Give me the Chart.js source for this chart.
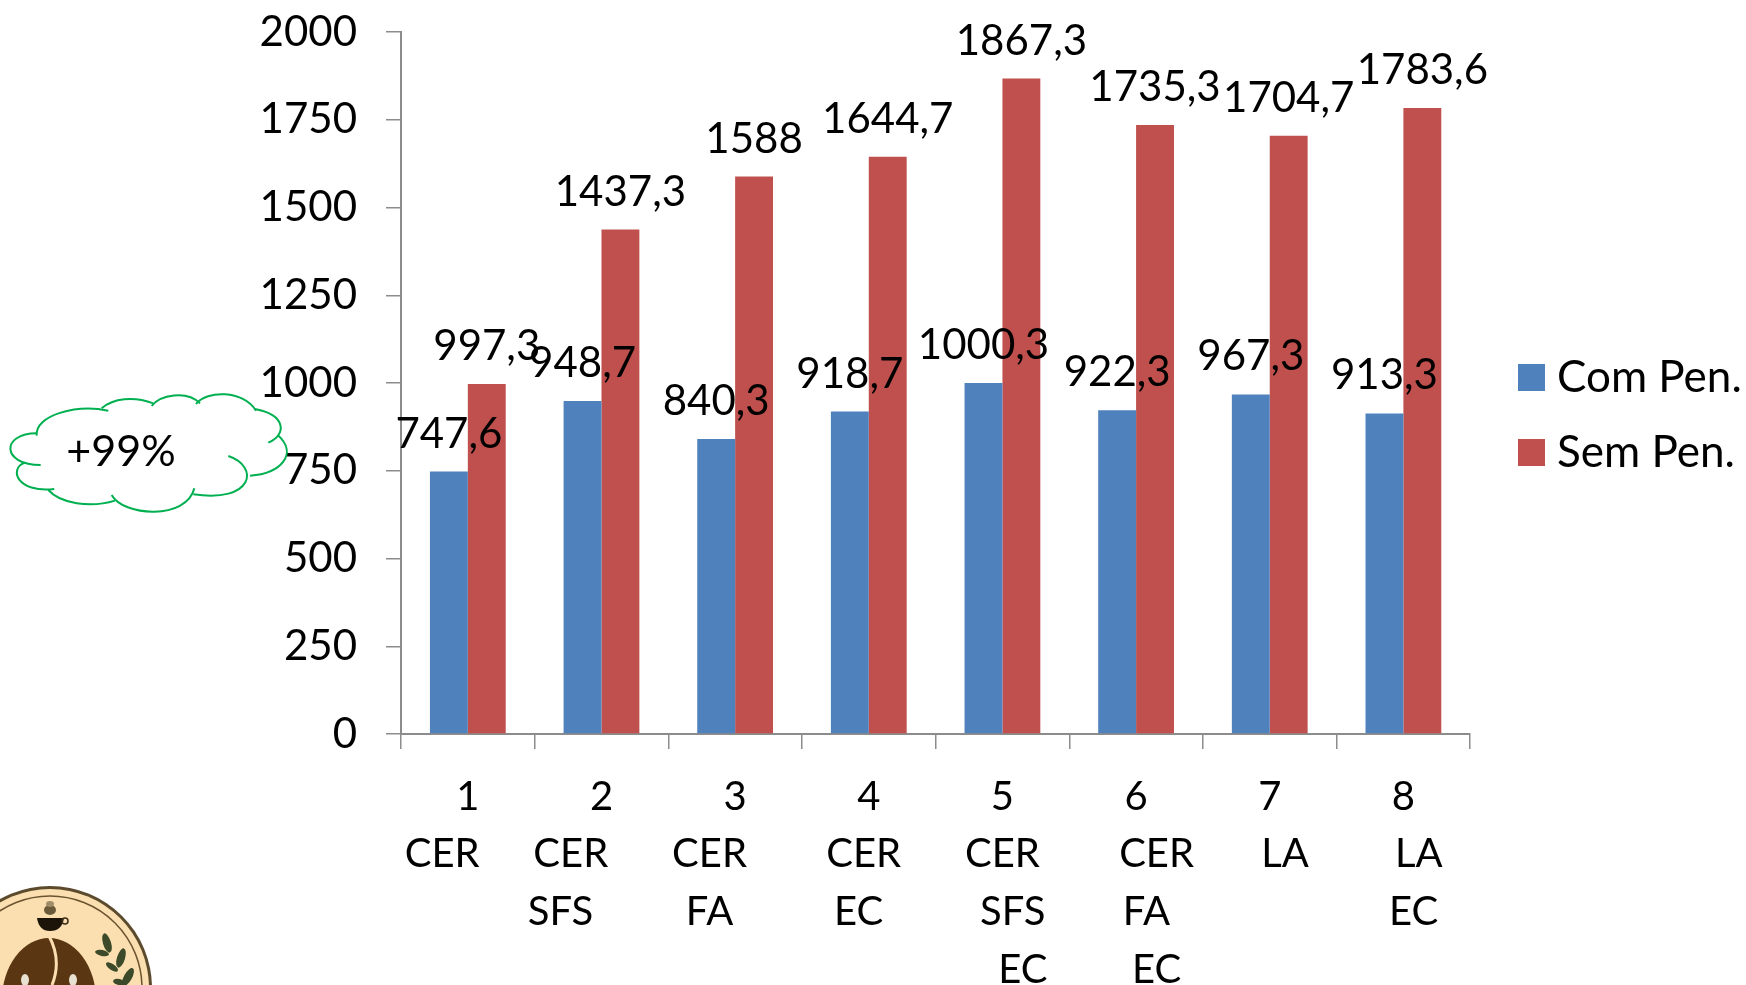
<!DOCTYPE html>
<html>
<head>
<meta charset="utf-8">
<title>Com Pen. x Sem Pen.</title>
<script src="https://cdn.jsdelivr.net/npm/chart.js@4/dist/chart.umd.min.js"></script>
<style>
  html, body { margin: 0; padding: 0; background: #fff; overflow: hidden; }
  canvas { display: block; }
</style>
</head>
<body>
<canvas id="chart" width="1746" height="985"></canvas>
<script>
// Valores
const categories = ['1', '2', '3', '4', '5', '6', '7', '8'];
const groups = [
  ['CER'],
  ['CER', 'SFS'],
  ['CER', 'FA'],
  ['CER', 'EC'],
  ['CER', 'SFS', 'EC'],
  ['CER', 'FA', 'EC'],
  ['LA'],
  ['LA', 'EC']
];
const comPen = [747.6, 948.7, 840.3, 918.7, 1000.3, 922.3, 967.3, 913.3];
const semPen = [997.3, 1437.3, 1588, 1644.7, 1867.3, 1735.3, 1704.7, 1783.6];
const seriesNames = ['Com Pen.', 'Sem Pen.'];
const calloutText = '+99%';

// Layout
const FONT = 'Lato, Carlito, sans-serif';
const FONT_SIZE = 42;
const X_FONT_SIZE = 40;
const LEGEND_FONT_SIZE = 44;
const AXIS_COLOR = '#8c8c8c';
const SPACE_WIDTH = X_FONT_SIZE * 0.25;
// desvio horizontal (px) de cada linha dos rotulos, como no slide original
const lineShifts = [
  [-27],
  [-30, -42],
  [-25, -25],
  [-4, -8],
  [0, 10, 22],
  [22, 10, 22],
  [15],
  [15, 10]
];

// os rotulos do original sao deslocados com espacos
function padLine(text, shift) {
  const pad = ' '.repeat(Math.round(Math.abs(shift) * 2 / SPACE_WIDTH));
  return shift < 0 ? text + pad : pad + text;
}

const barLabels = {
  id: 'barLabels',
  afterDatasetsDraw(chart) {
    const ctx = chart.ctx;
    ctx.save();
    ctx.font = FONT_SIZE + 'px ' + FONT;
    ctx.fillStyle = '#000';
    ctx.textAlign = 'center';
    ctx.textBaseline = 'alphabetic';
    chart.data.datasets.forEach((ds, i) => {
      chart.getDatasetMeta(i).data.forEach((bar, j) => {
        ctx.fillText(String(ds.data[j]).replace('.', ','), bar.x, bar.y - 24);
      });
    });
    ctx.restore();
  }
};

const legendPlace = {
  id: 'legendPlace',
  afterLayout(chart) {
    const l = chart.legend;
    const w = l.right - l.left;
    l.left = 1497;
    l.right = l.left + w;
    l.top += 32;
    l.bottom += 32;
  }
};

// nuvem verde: cada arco = inicio, meio, fim (coordenadas do recorte 3x)
const cloudArcs = [
  [110, 287, 105, 225, 230, 192, 325, 212],
  [305, 205, 340, 175, 400, 168, 460, 190],
  [455, 198, 480, 165, 560, 150, 600, 190],
  [588, 192, 620, 150, 730, 150, 768, 212],
  [765, 207, 860, 225, 860, 285, 805, 308],
  [833, 285, 895, 340, 845, 400, 750, 407],
  [685, 348, 780, 380, 760, 490, 580, 463],
  [583, 445, 560, 540, 370, 530, 335, 465],
  [345, 482, 270, 505, 180, 490, 145, 450],
  [163, 447, 50, 460, 25, 385, 75, 368],
  [122, 375, 3, 375, 3, 280, 110, 280]
];

const cloud = {
  id: 'cloud',
  afterDraw(chart) {
    const ctx = chart.ctx;
    ctx.save();
    ctx.translate(0, 340);
    ctx.scale(1 / 3, 1 / 3);
    ctx.strokeStyle = '#00b050';
    ctx.lineWidth = 6;
    cloudArcs.forEach(a => {
      ctx.beginPath();
      ctx.moveTo(a[0], a[1]);
      ctx.bezierCurveTo(a[2], a[3], a[4], a[5], a[6], a[7]);
      ctx.stroke();
    });
    ctx.restore();
    ctx.save();
    ctx.font = '43px ' + FONT;
    ctx.fillStyle = '#000';
    ctx.textAlign = 'center';
    ctx.textBaseline = 'middle';
    ctx.fillText(calloutText, 121, 452);
    ctx.restore();
  }
};

function ellipse(ctx, x, y, rx, ry, color, rot) {
  ctx.fillStyle = color;
  ctx.beginPath();
  ctx.ellipse(x, y, rx, ry, rot || 0, 0, Math.PI * 2);
  ctx.fill();
}

// selo do canto, cortado pela borda da pagina
const logo = {
  id: 'logo',
  afterDraw(chart) {
    const ctx = chart.ctx;
    ctx.save();
    ellipse(ctx, 50, 988, 102, 102, '#5b4a2c');
    ellipse(ctx, 50, 988, 99, 99, '#fbdfb0');
    ctx.strokeStyle = '#6b5330';
    ctx.lineWidth = 1.5;
    ctx.beginPath();
    ctx.arc(50, 988, 92, 0, Math.PI * 2);
    ctx.stroke();
    // grao com o vinco claro
    ellipse(ctx, 49, 1000, 47, 62, '#5a3612');
    ctx.strokeStyle = '#fbdfb0';
    ctx.lineWidth = 3;
    ctx.beginPath();
    ctx.moveTo(49, 936);
    ctx.quadraticCurveTo(62, 960, 52, 985);
    ctx.stroke();
    ellipse(ctx, 25, 980, 4, 6, '#e8e0d0');
    ellipse(ctx, 73, 980, 4, 6, '#e8e0d0');
    // xicara
    ctx.fillStyle = '#1c1408';
    ctx.beginPath();
    ctx.moveTo(37, 918);
    ctx.lineTo(64, 918);
    ctx.quadraticCurveTo(62, 931, 50, 931);
    ctx.quadraticCurveTo(39, 931, 37, 918);
    ctx.fill();
    ctx.strokeStyle = '#3a2c18';
    ctx.lineWidth = 1.5;
    ctx.beginPath();
    ctx.arc(65, 921, 3, 0, Math.PI * 2);
    ctx.stroke();
    ellipse(ctx, 50, 910, 6, 5, '#6b5a3a');
    ellipse(ctx, 50, 904, 4, 3, '#a08c68');
    // folhas
    ellipse(ctx, 107, 943, 4, 10, '#3c4a2a', -0.3);
    ellipse(ctx, 102, 953, 7, 3, '#3c4a2a', 0.2);
    ellipse(ctx, 121, 958, 4, 10, '#3c4a2a', 0.3);
    ellipse(ctx, 112, 967, 7, 3, '#3c4a2a', 0.6);
    ellipse(ctx, 128, 977, 4, 10, '#3c4a2a', 0.5);
    ellipse(ctx, 119, 982, 6, 3, '#3c4a2a', 0.2);
    ctx.restore();
  }
};

new Chart(document.getElementById('chart').getContext('2d'), {
  type: 'bar',
  data: {
    labels: categories,
    datasets: [
      { label: seriesNames[0], data: comPen, backgroundColor: '#4f81bd' },
      { label: seriesNames[1], data: semPen, backgroundColor: '#c0504d' }
    ]
  },
  options: {
    responsive: false,
    animation: false,
    categoryPercentage: 0.567,
    barPercentage: 1,
    layout: { padding: { top: 32, right: 21 } },
    scales: {
      x: {
        afterFit: s => { s.height = 251; },
        grid: { display: true, drawOnChartArea: false, color: AXIS_COLOR, tickLength: 15, lineWidth: 1.5 },
        border: { color: AXIS_COLOR, width: 2 },
        ticks: {
          color: '#000',
          font: { family: FONT, size: X_FONT_SIZE, lineHeight: 1.44 },
          padding: 19,
          maxRotation: 0,
          minRotation: 0,
          autoSkip: false,
          callback(value, i) {
            return [categories[i]].concat(groups[i].map((t, k) => padLine(t, lineShifts[i][k])));
          }
        }
      },
      y: {
        min: 0,
        max: 2000,
        afterFit: s => { s.width = 401; s.paddingTop = 0; s.paddingBottom = 0; },
        grid: { display: true, drawOnChartArea: false, color: AXIS_COLOR, tickLength: 15, lineWidth: 1.5 },
        border: { color: AXIS_COLOR, width: 2 },
        ticks: {
          stepSize: 250,
          color: '#000',
          font: { family: FONT, size: FONT_SIZE },
          padding: 29,
          callback: value => String(value)
        }
      }
    },
    plugins: {
      title: { display: false },
      tooltip: { enabled: false },
      legend: {
        position: 'right',
        fullSize: false,
        labels: {
          color: '#000',
          font: { family: FONT, size: LEGEND_FONT_SIZE },
          usePointStyle: true,
          pointStyle: 'rect',
          boxHeight: 27,
          boxWidth: 7,
          padding: 31
        }
      }
    }
  },
  plugins: [barLabels, legendPlace, cloud, logo]
});
</script>
</body>
</html>
